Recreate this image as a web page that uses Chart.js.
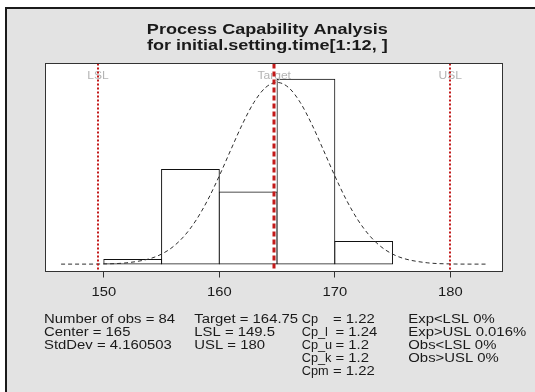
<!DOCTYPE html>
<html>
<head>
<meta charset="utf-8">
<title>Process Capability Analysis</title>
<script src="https://cdn.jsdelivr.net/npm/chart.js@4.4.1/dist/chart.umd.min.js"></script>
<style>
  html, body { margin: 0; padding: 0; background: #fff; }
  canvas { display: block; }
</style>
</head>
<body>
<canvas id="capability" width="535" height="392"></canvas>
<script>
// Histogram of initial.setting.time (density per 5-unit bin)
const binEdges = [150, 155, 160, 165, 170, 175];
const binDensity = [0.0024, 0.0500, 0.0381, 0.0976, 0.0119];

// Fitted normal density, sampled along the x axis
const curveX = [146.3, 148, 150, 152, 154, 155, 156, 157, 158, 159, 160, 161, 162, 163, 164, 165,
                166, 167, 168, 169, 170, 171, 172, 173, 174, 175, 176, 178, 180, 182, 183.2];
const curveY = [0.0000, 0.0000, 0.0001, 0.0007, 0.0029, 0.0053, 0.0092, 0.0151, 0.0233, 0.0339, 0.0466,
                0.0604, 0.0739, 0.0854, 0.0932, 0.0959, 0.0932, 0.0854, 0.0739, 0.0604, 0.0466,
                0.0339, 0.0233, 0.0151, 0.0092, 0.0053, 0.0029, 0.0007, 0.0001, 0.0000, 0.0000];

const xTicks = [150, 160, 170, 180];

// Spec limits
const specNames = ['LSL', 'Target', 'USL'];
const specValues = [149.5, 164.75, 180];

// Summary block under the plot
const statsCol1 = ['Number of obs = 84', 'Center = 165', 'StdDev = 4.160503'];
const statsCol2 = ['Target = 164.75', 'LSL = 149.5', 'USL = 180'];
const indexNames = ['Cp', 'Cp_l', 'Cp_u', 'Cp_k', 'Cpm'];
const indexValues = ['1.22', '1.24', '1.2', '1.2', '1.22'];
const expObs = ['Exp<LSL 0%', 'Exp>USL 0.016%', 'Obs<LSL 0%', 'Obs>USL 0%'];

const FONT = '"Liberation Sans", Arial, sans-serif';
const INK = '#1a1a1a';
const RED = '#c41a1a';

// text is drawn slightly widened horizontally
const putText = (ctx, str, x, y, font, color, align = 'left', sx = 1.19) => {
    ctx.save();
    ctx.font = font;
    ctx.fillStyle = color;
    ctx.textAlign = align;
    ctx.textBaseline = 'alphabetic';
    ctx.translate(x, y);
    ctx.scale(sx, 1);
    ctx.fillText(str, 0, 0);
    ctx.restore();
};

const frame = {
    id: 'frame',
    beforeDraw(chart) {
        const { ctx, width, height, chartArea: a } = chart;
        ctx.save();
        ctx.fillStyle = '#fff';
        ctx.fillRect(0, 0, width, height);
        ctx.fillStyle = '#e3e3e3';
        ctx.fillRect(5, 7, width, height);
        ctx.fillStyle = '#1a1a1a';
        ctx.fillRect(5, 7, width, 2);
        ctx.fillRect(5, 7, 2, height);
        ctx.fillStyle = '#fff';
        ctx.fillRect(a.left, a.top, a.right - a.left, a.bottom - a.top);
        ctx.restore();
    },
    afterDatasetsDraw(chart) {
        const { ctx, chartArea: a } = chart;
        const x = chart.scales.x;

        // spec labels, then the limit lines over them
        specNames.forEach((name, i) => {
            putText(ctx, name, x.getPixelForValue(specValues[i]), 78.5, '10.5px ' + FONT, '#b4b4b4', 'center', 1.15);
        });
        specValues.forEach((v, i) => {
            const px = Math.round(x.getPixelForValue(v));
            ctx.save();
            ctx.strokeStyle = RED;
            ctx.lineWidth = i === 1 ? 3 : 2;
            ctx.setLineDash(i === 1 ? [5, 3] : [2, 2]);
            ctx.beginPath();
            ctx.moveTo(px, a.top);
            ctx.lineTo(px, a.bottom);
            ctx.stroke();
            ctx.restore();
        });

        // plot box
        ctx.save();
        ctx.strokeStyle = '#333';
        ctx.lineWidth = 1;
        ctx.strokeRect(a.left, a.top, a.right - a.left, a.bottom - a.top);
        ctx.restore();
    },
    afterDraw(chart) {
        const { ctx } = chart;
        const x = chart.scales.x;

        x.ticks.forEach(t => {
            putText(ctx, String(t.value), x.getPixelForValue(t.value), 296, '12.5px ' + FONT, INK, 'center', 1.18);
        });

        // title
        putText(ctx, 'Process Capability Analysis', 267.3, 34.3, 'bold 15.5px ' + FONT, INK, 'center', 1.165);
        putText(ctx, 'for initial.setting.time[1:12, ]', 267.3, 50.3, 'bold 15.5px ' + FONT, INK, 'center', 1.165);

        // summary statistics
        const f = '12.5px ' + FONT;
        const base = 323.3, step = 13;
        statsCol1.forEach((s, i) => putText(ctx, s, 44, base + i * step, f, INK));
        statsCol2.forEach((s, i) => putText(ctx, s, 194.3, base + i * step, f, INK));
        indexNames.forEach((s, i) => {
            putText(ctx, s, 301.7, base + i * step, f, INK, 'left', 1.02);
            putText(ctx, '= ' + indexValues[i], i === 0 || i === 4 ? 333 : 335.5, base + i * step, f, INK);
        });
        expObs.forEach((s, i) => putText(ctx, s, 408.3, base + i * step, f, INK));
    }
};

const bars = binDensity.map((d, i) => ({ x: (binEdges[i] + binEdges[i + 1]) / 2, y: d }));
const curve = curveX.map((v, i) => ({ x: v, y: curveY[i] }));

new Chart(document.getElementById('capability'), {
    type: 'bar',
    data: {
        datasets: [
            {
                type: 'line',
                data: curve,
                borderColor: '#2e2e2e',
                borderWidth: 1,
                borderDash: [4, 3],
                pointRadius: 0,
                cubicInterpolationMode: 'monotone',
                fill: false,
                order: 0
            },
            {
                type: 'bar',
                data: bars,
                backgroundColor: '#fff',
                borderColor: '#111',
                borderWidth: 1,
                borderSkipped: false,
                inflateAmount: 0.5,
                barPercentage: 1,
                categoryPercentage: 1,
                grouped: false,
                order: 1
            }
        ]
    },
    options: {
        responsive: false,
        animation: false,
        layout: { padding: { left: 45.5, right: 32.5, top: 63.5, bottom: 94.5 } },
        plugins: {
            legend: { display: false },
            tooltip: { enabled: false },
            title: { display: false }
        },
        scales: {
            x: {
                type: 'linear',
                offset: false,
                min: 144.95,
                max: 184.52,
                afterBuildTicks: s => { s.ticks = xTicks.map(v => ({ value: v })); },
                afterFit: s => { s.height = 26; },
                grid: { offset: false, drawOnChartArea: false, drawTicks: true, tickLength: 6, color: '#333' },
                border: { display: false },
                ticks: { display: false }
            },
            y: { display: false, min: -0.0039, max: 0.1059 }
        }
    },
    plugins: [frame]
});
</script>
</body>
</html>
